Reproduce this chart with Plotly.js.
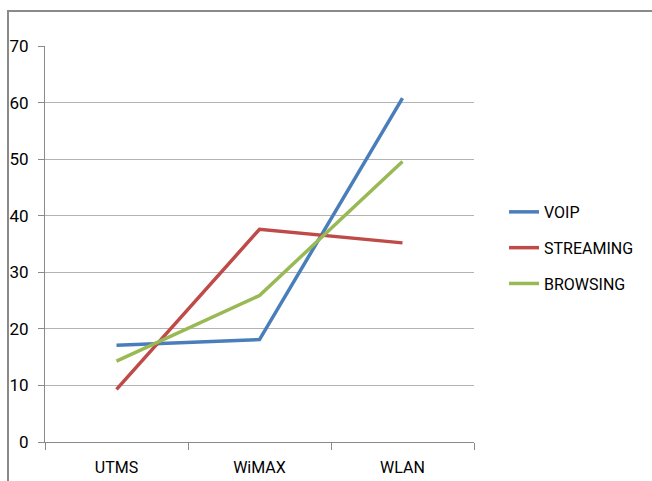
<!DOCTYPE html>
<html>
<head>
<meta charset="utf-8">
<script src="https://cdn.plot.ly/plotly-3.0.1.min.js"></script>
<style>
  html, body { margin: 0; padding: 0; background: #fff; }
  #frame { position: absolute; left: 7px; top: 10px; width: 660px; height: 490px;
           border-left: 2px solid #8a8a8a; border-top: 2px solid #8a8a8a; pointer-events: none; }
  #chart { position: absolute; left: 0; top: 0; width: 652px; height: 481px; }
</style>
</head>
<body>
<div id="chart"></div>
<div id="frame"></div>
<script>
const categories = ["UTMS", "WiMAX", "WLAN"];
const voip = [17.1, 18.1, 60.8];
const streaming = [9.3, 37.6, 35.2];
const browsing = [14.3, 25.9, 49.6];
const yTicks = [0, 10, 20, 30, 40, 50, 60, 70];

const seriesNames = ["VOIP", "STREAMING", "BROWSING"];
const seriesValues = [voip, streaming, browsing];
const seriesColors = ["#4a7ebb", "#be4b48", "#98b954"];

const traces = seriesValues.map((vals, i) => ({
  type: "scatter",
  mode: "lines",
  x: categories,
  y: vals,
  name: seriesNames[i],
  legendgroup: "g" + i,
  line: { color: seriesColors[i], width: 3.5 }
}));

const layout = {
  width: 652,
  height: 481,
  margin: { l: 45, r: 178, t: 45.5, b: 39 },
  paper_bgcolor: "rgba(0,0,0,0)",
  plot_bgcolor: "#fff",
  font: { family: "Roboto, Liberation Sans, sans-serif", color: "#000" },
  showlegend: true,
  legend: {
    x: 1.07, y: 0.49, xanchor: "left", yanchor: "middle",
    font: { size: 16, color: "#000" },
    tracegroupgap: 12,
    bgcolor: "rgba(0,0,0,0)"
  },
  xaxis: {
    type: "category",
    range: [-0.5, 2.5],
    showgrid: false,
    showline: true,
    linecolor: "#8a8a8a",
    linewidth: 1,
    ticks: "outside",
    tickson: "boundaries",
    ticklen: 7,
    tickcolor: "#8a8a8a",
    tickfont: { size: 16 },
    ticklabelstandoff: 11,
    zeroline: false,
    fixedrange: true
  },
  yaxis: {
    range: [0, 70],
    tickvals: yTicks,
    ticktext: yTicks.map(String),
    showgrid: true,
    gridcolor: "#b3b3b3",
    gridwidth: 1,
    showline: true,
    linecolor: "#8a8a8a",
    linewidth: 1,
    ticks: "outside",
    ticklen: 6,
    tickcolor: "#8a8a8a",
    tickfont: { size: 17 },
    ticklabelstandoff: 6,
    zeroline: false,
    fixedrange: true
  }
};

Plotly.newPlot("chart", traces, layout, { displayModeBar: false, staticPlot: true });
</script>
</body>
</html>
